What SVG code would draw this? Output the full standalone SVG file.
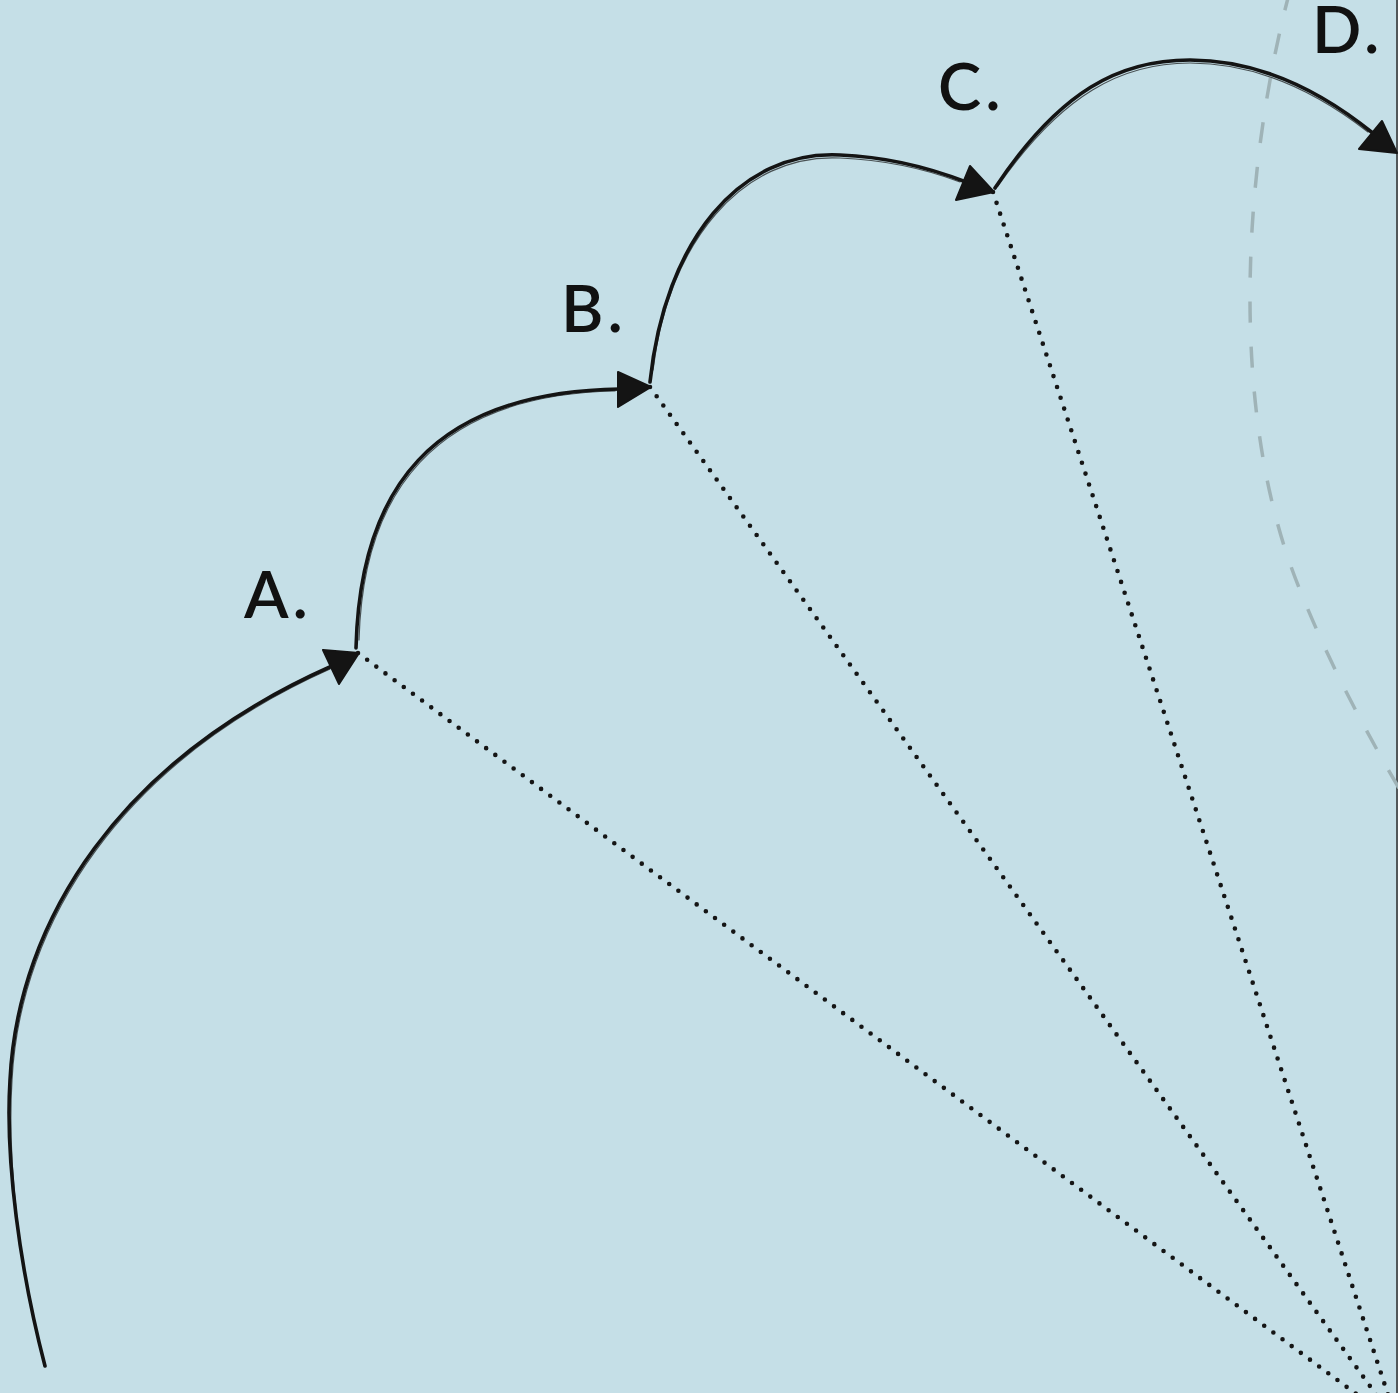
<svg xmlns="http://www.w3.org/2000/svg" width="1398" height="1393" viewBox="0 0 1398 1393">
<style>
.lbl{font-family:Lato,"Open Sans","Liberation Sans",sans-serif;font-size:65px;font-weight:600;fill:#111;letter-spacing:4px;}
.arc{fill:none;stroke:#141414;stroke-width:3.6;stroke-linecap:round;}
.arc2{fill:none;stroke:#141414;stroke-width:1.2;stroke-linecap:round;opacity:0.7;}
.head{fill:#141414;stroke:#141414;stroke-width:2;stroke-linejoin:round;}
.dot{fill:none;stroke:#151515;stroke-width:4.6;stroke-linecap:round;stroke-dasharray:0 11.4;}
.guide{fill:none;stroke:#9fb3b7;stroke-width:3.5;stroke-dasharray:21 24;}
</style>
<rect width="1398" height="1393" fill="#c5dfe7"/>
<line x1="1397" y1="0" x2="1397" y2="1393" stroke="#2a2a2a" stroke-width="1.5"/>
<path class="guide" d="M1290,-10 C1240,180 1230,420 1300,590 C1330,665 1365,730 1400,790"/>
<g id="connectors">
<path class="dot" d="M358,653 L1398,1425"/>
<path class="dot" d="M650,387 L1398,1425"/>
<path class="dot" d="M993,192 L1398,1425"/>
<path class="arc" d="M45,1366 C20,1270 5,1160 10,1080 C18,920 120,760 332,666"/>
<path class="arc2" d="M43,1360 C19,1266 7,1160 12,1080 C20,922 122,762 330,669"/>
<path class="arc" d="M356,648 C360,490 430,392 620,389"/>
<path class="arc2" d="M359,640 C363,494 432,395 615,391"/>
<path class="arc" d="M650,382 C665,240 740,150 840,155 C890,157 930,168 966,182"/>
<path class="arc2" d="M653,370 C668,243 742,153 840,158 C888,160 928,170 960,182"/>
<path class="arc" d="M995,188 C1060,90 1120,60 1190,60 C1260,60 1320,90 1374,134"/>
<path class="arc2" d="M998,186 C1062,94 1122,63 1190,63 C1258,63 1318,93 1368,132"/>
</g>
<g id="node-A">
<polygon class="head" points="323,650 359,653 339,684"/>
<text class="lbl" x="244" y="618">A.</text>
</g>
<g id="node-B">
<polygon class="head" points="618,372 651,387 618,407"/>
<text class="lbl" x="561" y="332">B.</text>
</g>
<g id="node-C">
<polygon class="head" points="970,166 994,192 956,200"/>
<text class="lbl" x="938" y="110">C.</text>
</g>
<g id="node-D">
<polygon class="head" points="1382,121 1397,153 1359,149"/>
<text class="lbl" x="1312" y="53">D.</text>
</g>
</svg>
